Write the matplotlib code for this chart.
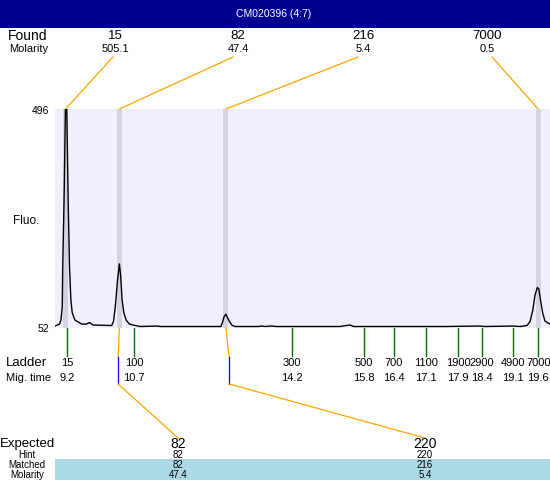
import matplotlib.pyplot as plt
from matplotlib.patches import Rectangle
from matplotlib import font_manager

# electropherogram trace (migration time in s, fluorescence)
trace_time = [8.94, 9.04, 9.07, 9.10, 9.11, 9.14, 9.17, 9.20, 9.23, 9.26, 9.29, 9.32,
              9.38, 9.53, 9.63, 9.70, 9.78, 10.19, 10.23, 10.27, 10.32, 10.36, 10.39,
              10.42, 10.46, 10.51, 10.58, 10.71, 10.82, 11.19, 11.26, 12.60, 12.64,
              12.67, 12.71, 12.74, 12.79, 12.84, 12.91, 13.42, 13.50, 13.57, 13.72,
              13.82, 15.23, 15.36, 15.45, 15.53, 16.55, 17.54, 18.31, 18.42, 19.04,
              19.20, 19.35, 19.42, 19.48, 19.53, 19.58, 19.61, 19.65, 19.70, 19.75,
              19.82, 19.86]
trace_fluo = [56, 60, 68, 95, 176, 311, 496, 496, 311, 176, 109, 83,
              68, 60, 60, 63, 58, 57, 65, 95, 149, 182, 156,
              109, 82, 68, 60, 57, 55, 56, 55, 55, 65,
              75, 80, 74, 65, 58, 55, 55, 56, 55, 56,
              55, 55, 57, 58, 55, 55, 55, 56, 55, 56,
              55, 57, 65, 88, 119, 134, 132, 109, 82, 66,
              62, 60]

# found peaks
found_size = ['15', '82', '216', '7000']
found_molarity = ['505.1', '47.4', '5.4', '0.5']
found_time = [9.17, 10.36, 12.71, 19.60]

# ladder
ladder_size = ['15', '100', '300', '500', '700', '1100', '1900', '2900', '4900', '7000']
ladder_time = [9.20, 10.69, 14.17, 15.76, 16.42, 17.13, 17.83, 18.36, 19.05, 19.60]
ladder_label = ['9.2', '10.7', '14.2', '15.8', '16.4', '17.1', '17.9', '18.4', '19.1', '19.6']

# expected fragments
expected = ['82', '220']
hint = ['82', '220']
matched = ['82', '216']
matched_molarity = ['47.4', '5.4']
matched_time = [10.36, 12.71]

FLUO_MIN, FLUO_MAX = 52, 496
TITLE = 'CM020396 (4:7)'

W, H = 550, 480

names = {f.name for f in font_manager.fontManager.ttflist}
REG = 'Liberation Sans'
NARROW = 'Liberation Sans Narrow' if 'Liberation Sans Narrow' in names else REG


def main():
    fig = plt.figure(figsize=(W / 100, H / 100), dpi=100)

    # overlay axes in pixel units (y down) for the text around the plot
    ov = fig.add_axes([0, 0, 1, 1])
    ov.set_xlim(0, W)
    ov.set_ylim(H, 0)
    ov.axis('off')

    # plot area: 55..550 px wide, 109..328 px high
    top, bot, left = 109, 328, 55
    ax = fig.add_axes([left / W, (H - bot) / H, (W - left) / W, (bot - top) / H])
    ax.set_xlim(8.94, 19.86)
    ax.set_ylim(FLUO_MIN, FLUO_MAX)
    ax.set_facecolor('#f0f0fc')
    for s in ax.spines.values():
        s.set_visible(False)
    ax.set_xticks([])
    ax.set_yticks([])

    # gray bands on found peaks, then the trace
    for t in found_time:
        ax.axvspan(t - 0.055, t + 0.055, color='#d4d4e0', lw=0, zorder=1)
    ax.plot(trace_time, trace_fluo, color='black', lw=1, zorder=2)

    def px(t):
        return ax.transData.transform((t, FLUO_MIN))[0]

    # header
    ov.add_patch(Rectangle((0, 0), W, 28, color='#000090', lw=0))
    ov.text(274, 14, TITLE, color='white', ha='center', va='center',
            fontsize=7.5, family=REG)

    # found row
    ov.text(8, 36, 'Found', ha='left', va='center', fontsize=10, family=REG)
    ov.text(9, 49, 'Molarity', ha='left', va='center', fontsize=8, family=NARROW)
    label_x = [115, 238, 363, 487]
    line_end = [113, 233, 358, 492]
    for i in range(len(found_size)):
        ov.text(label_x[i], 36, found_size[i], ha='center', va='center',
                fontsize=9.5, family=REG)
        ov.text(label_x[i], 49, found_molarity[i], ha='center', va='center',
                fontsize=8, family=NARROW)
        ov.plot([px(found_time[i]), line_end[i]], [top, 57], color='orange', lw=0.9)

    # y labels
    ov.text(49, 111, str(FLUO_MAX), ha='right', va='center', fontsize=7.5, family=REG)
    ov.text(49, 329, str(FLUO_MIN), ha='right', va='center', fontsize=7.5, family=REG)
    ov.text(13, 221, 'Fluo.', ha='left', va='center', fontsize=8.5, family=REG)

    # ladder
    ov.text(6, 363, 'Ladder', ha='left', va='center', fontsize=9.5, family=REG)
    ov.text(6, 378, 'Mig. time', ha='left', va='center', fontsize=8, family=NARROW)
    for i in range(len(ladder_size)):
        x = px(ladder_time[i])
        ov.plot([x, x], [bot, 356], color='#007000', lw=1)
        ov.text(x, 363, ladder_size[i], ha='center', va='center', fontsize=8, family=NARROW)
        ov.text(x, 378, ladder_label[i], ha='center', va='center', fontsize=8, family=NARROW)

    # matched peaks linked to the expected fragments
    exp_x = [178, 425]
    shift = [-1.2, 3.3]
    for i in range(len(matched)):
        x0 = px(matched_time[i])
        x1 = x0 + shift[i]
        ov.plot([x0, x1], [bot, 357], color='orange', lw=0.9)
        ov.plot([x1, x1], [357, 384], color='blue', lw=0.9)
        ov.plot([x1, exp_x[i]], [384, 438], color='orange', lw=0.9)

    # expected table
    ov.add_patch(Rectangle((55, 459), W - 55, 21, color='lightblue', lw=0))
    ov.text(0, 444, 'Expected', ha='left', va='center', fontsize=9.5, family=REG)
    ov.text(27, 454.5, 'Hint', ha='center', va='center', fontsize=7, family=NARROW)
    ov.text(27, 464.5, 'Matched', ha='center', va='center', fontsize=7, family=NARROW)
    ov.text(27, 474.5, 'Molarity', ha='center', va='center', fontsize=7, family=NARROW)
    for i in range(len(expected)):
        ov.text(exp_x[i], 444, expected[i], ha='center', va='center', fontsize=10, family=REG)
        ov.text(exp_x[i], 454.5, hint[i], ha='center', va='center', fontsize=7, family=NARROW)
        ov.text(exp_x[i], 464.5, matched[i], ha='center', va='center', fontsize=7, family=NARROW)
        ov.text(exp_x[i], 474.5, matched_molarity[i], ha='center', va='center', fontsize=7, family=NARROW)

    fig.savefig('out.png', dpi=100)


if __name__ == "__main__":
    main()
